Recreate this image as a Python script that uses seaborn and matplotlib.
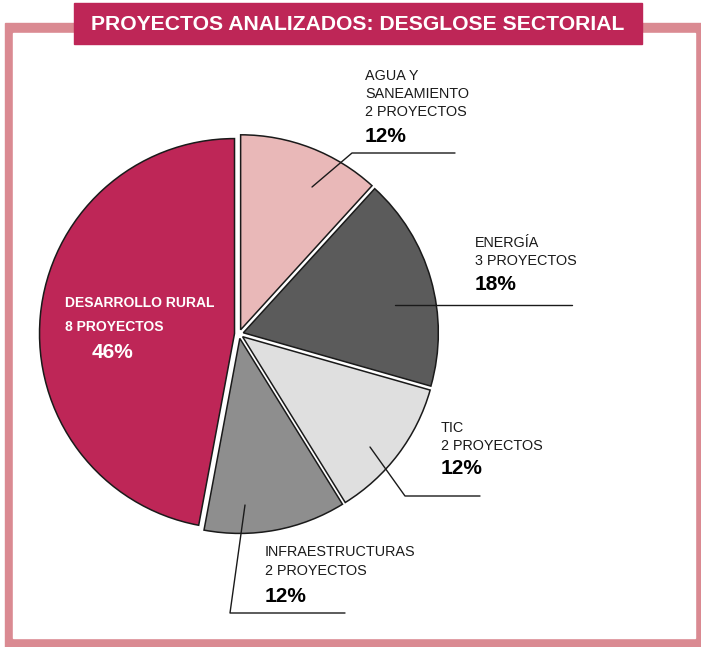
import numpy as np
import matplotlib
matplotlib.use('Agg')
import matplotlib.pyplot as plt
import matplotlib.patches as mpatches
import seaborn as sns

#%% data
sectores  = ['AGUA Y\nSANEAMIENTO', 'ENERGÍA', 'TIC', 'INFRAESTRUCTURAS', 'DESARROLLO RURAL']
proyectos = [2, 3, 2, 2, 8]
pct_lbl   = ['12%', '18%', '12%', '12%', '46%']
colores   = ['#e9b8b8', '#5b5b5b', '#dfdfdf', '#8e8e8e', '#be2657']

#%% style
sns.set_theme(style='white')
plt.rcParams['font.family'] = ['Liberation Sans', 'DejaVu Sans']

W, H = 701, 647
Y = lambda y: H - y   # pixel row -> data y

fig = plt.figure(figsize=(W/100, H/100), dpi=100)
ax = fig.add_axes([0, 0, 1, 1])

# frame and title box
ax.add_patch(mpatches.Rectangle((5, Y(647)), 696, 624, color='#da8a92', zorder=0))
ax.add_patch(mpatches.Rectangle((13, Y(638)), 682, 605, color='white', zorder=0))
ax.add_patch(mpatches.Rectangle((74, Y(44)), 568, 41, color='#be2657', zorder=1))
ax.text(358, Y(24), 'PROYECTOS ANALIZADOS: DESGLOSE SECTORIAL', color='white',
        fontsize=15.2, fontweight='bold', ha='center', va='center', zorder=2)

# pie (explode is in data units = pixels here)
cx, cy, r = 239, Y(334), 195
ax.pie(proyectos, colors=colores, startangle=90, counterclock=False,
       center=(cx, cy), radius=r, explode=[4.5]*len(proyectos),
       wedgeprops=dict(edgecolor='#1a1a1a', linewidth=1.1))
ax.set_xlim(0, W)
ax.set_ylim(0, H)
ax.set_aspect('equal')
ax.axis('off')

# leader lines (layout, pixel coords)
lines = [[(312, 187), (352, 153), (455, 153)],
         [(395, 305), (572, 305)],
         [(370, 447), (405, 496), (480, 496)],
         [(245, 505), (230, 613), (345, 613)]]
for pts in lines:
    xs = [p[0] for p in pts]
    ys = [Y(p[1]) for p in pts]
    ax.plot(xs, ys, color='#1a1a1a', lw=1.0, zorder=5)

# outside labels
lbl_pos = [(365, [76, 94], 112, 136),
           (475, [243], 261, 284),
           (441, [428], 446, 469),
           (265, [552], 571, 596)]
for i, (x, ys_name, y_n, y_p) in enumerate(lbl_pos):
    for name, yy in zip(sectores[i].split('\n'), ys_name):
        ax.text(x, Y(yy), name, fontsize=10.4, color='#1a1a1a', va='center', ha='left')
    ax.text(x, Y(y_n), f'{proyectos[i]} PROYECTOS', fontsize=10.4, color='#1a1a1a',
            va='center', ha='left')
    ax.text(x, Y(y_p), pct_lbl[i], fontsize=15, fontweight='bold', color='black',
            va='center', ha='left')

# inside label for the big slice
ax.text(65, Y(303), sectores[4], fontsize=10, fontweight='bold', color='white', va='center')
ax.text(65, Y(327), f'{proyectos[4]} PROYECTOS', fontsize=10, fontweight='bold',
        color='white', va='center')
ax.text(92, Y(352), pct_lbl[4], fontsize=15, fontweight='bold', color='white', va='center')

fig.savefig('out.png', dpi=100, facecolor='w')
